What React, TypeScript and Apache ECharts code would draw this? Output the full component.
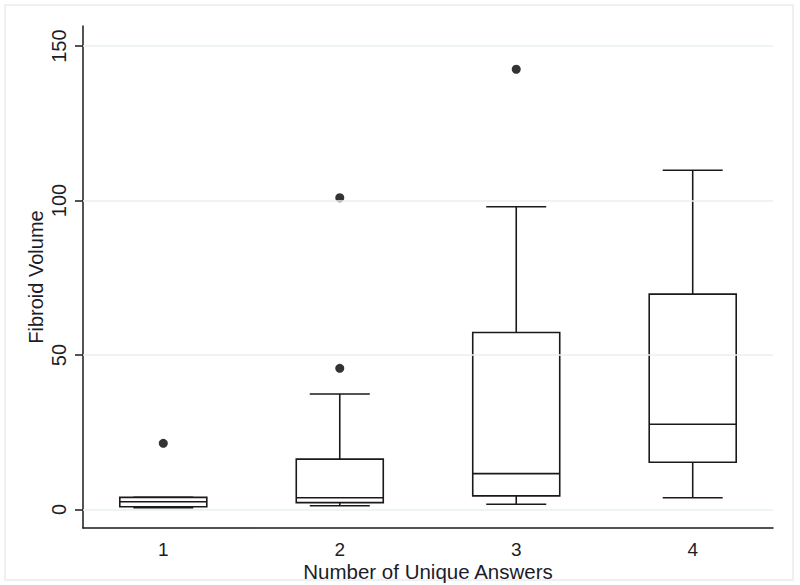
import React, { useEffect, useRef } from "react";
import * as echarts from "echarts";

const categories = [1, 2, 3, 4];
// [min whisker, Q1, median, Q3, max whisker]
const boxStats = [
  [0.6, 0.9, 2.5, 3.9, 3.9],
  [1.2, 2.2, 3.8, 16.3, 37.4],
  [1.7, 4.4, 11.6, 57.3, 98.0],
  [3.8, 15.3, 27.6, 69.7, 109.8],
];
const outliers = [
  [1, 21.4],
  [2, 100.9],
  [2, 45.7],
  [3, 142.5],
];
const yTicks = [0, 50, 100, 150];

const INK = "#1a1a1a";
const FONT = "Liberation Sans, Arial, sans-serif";
const TXT = "#1c1c2a";

export default function App() {
  const ref = useRef<HTMLDivElement>(null);
  useEffect(() => {
    if (!ref.current) return;
    const chart = echarts.init(ref.current, null, { renderer: "svg" });
    const boxData = categories.map((c, i) => [c, ...boxStats[i]]);
    chart.setOption({
      animation: false,
      backgroundColor: "#ffffff",
      textStyle: { fontFamily: FONT },
      graphic: [
        {
          type: "rect",
          shape: { x: 5, y: 5, width: 788, height: 575 },
          style: { fill: "none", stroke: "#edf1f4", lineWidth: 2 },
          silent: true,
        },
      ],
      grid: {
        left: 83,
        top: 26,
        right: 27,
        bottom: 57,
        containLabel: false,
        outerBoundsMode: "none",
      },
      xAxis: {
        type: "value",
        min: 0.545,
        max: 4.455,
        name: "Number of Unique Answers",
        nameLocation: "middle",
        nameGap: 33,
        nameMoveOverlap: false,
        nameTextStyle: { color: TXT, fontSize: 20.5, lineHeight: 20, fontFamily: FONT },
        axisLine: { show: true, onZero: false, lineStyle: { color: INK, width: 1.5 } },
        axisTick: { show: false },
        splitLine: { show: false },
        axisLabel: {
          customValues: categories,
          color: TXT,
          fontSize: 19,
          lineHeight: 19,
          margin: 12,
          fontFamily: FONT,
        },
      },
      yAxis: {
        type: "value",
        min: -6,
        max: 156.5,
        name: "Fibroid Volume",
        nameLocation: "middle",
        nameGap: 37,
        nameRotate: 90,
        nameMoveOverlap: false,
        nameTextStyle: { color: TXT, fontSize: 20, fontFamily: FONT },
        axisLine: { show: true, onZero: false, lineStyle: { color: INK, width: 1.5 } },
        axisTick: {
          show: true,
          customValues: yTicks,
          length: 8,
          lineStyle: { color: INK, width: 1.5 },
        },
        splitLine: { show: false },
        axisLabel: {
          customValues: yTicks,
          rotate: 90,
          color: TXT,
          fontSize: 20,
          margin: 14,
          fontFamily: FONT,
        },
      },
      series: [
        {
          type: "line",
          data: [],
          silent: true,
          z: 1,
          markLine: {
            silent: true,
            symbol: ["none", "none"],
            label: { show: false },
            lineStyle: { color: "#e8f0f1", width: 1.5, type: "solid" },
            data: yTicks.map((v) => ({ yAxis: v })),
          },
        },
        {
          type: "custom",
          z: 3,
          data: boxData,
          encode: { x: 0, y: [1, 2, 3, 4, 5] },
          renderItem: (params: any, api: any) => {
            const x = api.value(0);
            const pMin = api.coord([x, api.value(1)]);
            const pQ1 = api.coord([x, api.value(2)]);
            const pMed = api.coord([x, api.value(3)]);
            const pQ3 = api.coord([x, api.value(4)]);
            const pMax = api.coord([x, api.value(5)]);
            const boxW = api.size([0.493, 0])[0];
            const capW = api.size([0.34, 0])[0];
            const cx = pMed[0];
            const ls = { stroke: INK, lineWidth: 1.6 };
            return {
              type: "group",
              children: [
                { type: "line", shape: { x1: cx, y1: pMax[1], x2: cx, y2: pQ3[1] }, style: ls },
                { type: "line", shape: { x1: cx, y1: pQ1[1], x2: cx, y2: pMin[1] }, style: ls },
                { type: "line", shape: { x1: cx - capW / 2, y1: pMax[1], x2: cx + capW / 2, y2: pMax[1] }, style: ls },
                { type: "line", shape: { x1: cx - capW / 2, y1: pMin[1], x2: cx + capW / 2, y2: pMin[1] }, style: ls },
                {
                  type: "rect",
                  shape: { x: cx - boxW / 2, y: pQ3[1], width: boxW, height: pQ1[1] - pQ3[1] },
                  style: { fill: "#ffffff", stroke: INK, lineWidth: 1.6 },
                },
                { type: "line", shape: { x1: cx - boxW / 2, y1: pMed[1], x2: cx + boxW / 2, y2: pMed[1] }, style: ls },
              ],
            };
          },
        },
        {
          type: "scatter",
          z: 4,
          data: outliers,
          symbol: "circle",
          symbolSize: 9,
          itemStyle: { color: "#000000" },
        },
      ],
    });
    return () => chart.dispose();
  }, []);
  return (
    <div
      ref={ref}
      style={{ position: "fixed", left: 0, top: 0, width: 800, height: 585 }}
    />
  );
}
